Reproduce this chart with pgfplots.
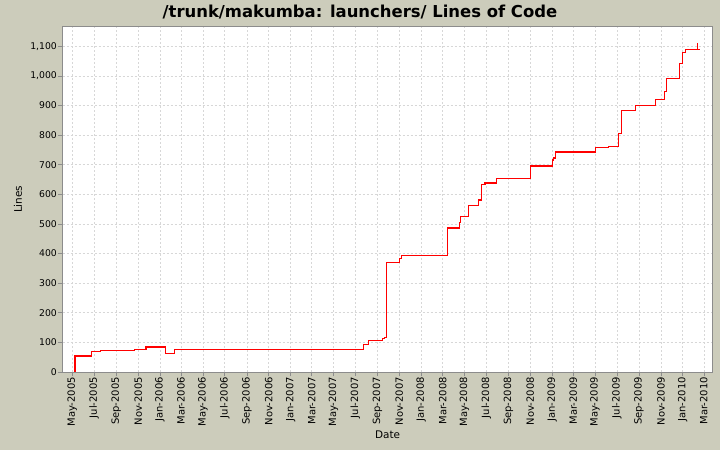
\documentclass[border=0pt]{standalone}
\usepackage{pgfplots}
\pgfplotsset{compat=1.18}
\usepackage{fontspec}
\setmainfont{DejaVu Sans}

\definecolor{chartbg}{RGB}{204,204,187}
\definecolor{gridgray}{RGB}{215,215,215}
\definecolor{framegray}{RGB}{140,140,140}

\begin{document}
\begin{tikzpicture}
  \fill[chartbg] (0,0) rectangle (720bp,450bp);
  \useasboundingbox (0,0) rectangle (720bp,450bp);
  \begin{axis}[
    at={(62.5bp,78bp)}, anchor=south west,
    scale only axis,
    width=650.2bp, height=345.3bp,
    axis background/.style={fill=white},
    xmin=-27.4, xmax=1789.8,
    ymin=0, ymax=1166.5,
    xtick={0,61,123,184,245,304,365,426,488,549,610,669,730,791,853,914,975,1035,1096,1157,1219,1280,1341,1400,1461,1522,1584,1645,1706,1765},
    xticklabels={May-2005,Jul-2005,Sep-2005,Nov-2005,Jan-2006,Mar-2006,May-2006,Jul-2006,Sep-2006,Nov-2006,Jan-2007,Mar-2007,May-2007,Jul-2007,Sep-2007,Nov-2007,Jan-2008,Mar-2008,May-2008,Jul-2008,Sep-2008,Nov-2008,Jan-2009,Mar-2009,May-2009,Jul-2009,Sep-2009,Nov-2009,Jan-2010,Mar-2010},
    ytick={0,100,...,1100},
    x tick label style={rotate=90, anchor=east, font=\fontsize{10}{12}\selectfont, inner sep=1bp},
    y tick label style={font=\fontsize{9.3}{11}\selectfont, inner sep=1.5bp},
    /pgf/number format/assume math mode=true,
    /pgf/number format/.cd, 1000 sep={,}, /pgfplots/.cd,
    scaled y ticks=false,
    tick pos=left,
    tick align=outside,
    major tick length=4bp,
    tick style={framegray, line width=0.6bp},
    axis line style={framegray, line width=0.8bp},
    grid=major,
    grid style={gridgray, dash pattern=on 2bp off 2bp, line width=0.6bp},
    every axis title shift=0pt,
    title={\bfseries /trunk/makumba: launchers/ Lines of Code},
    title style={at={(rel axis cs:0.4575,1.0426)}, anchor=center, font=\fontsize{16.5}{19}\selectfont},
    xlabel={Date},
    xlabel style={at={(rel axis cs:0.5,-0.1825)}, anchor=center, font=\fontsize{10.5}{12}\selectfont},
    ylabel={Lines},
    ylabel style={at={(rel axis cs:-0.0684,0.5)}, anchor=center, font=\fontsize{10.5}{12}\selectfont},
    ]
    \addplot[const plot, red, line width=1.3bp] coordinates {
      (7.5,0) (7.5,54) (54,69) (79,72) (174,77) (206,84) (260,63) (286,77)
      (813,93) (828,107) (867.5,113) (872,117) (877.6,371) (914,384) (919.5,394)
      (1048,486) (1081.6,504) (1085.5,526) (1106.8,563) (1135.8,581) (1143,634)
      (1153,638) (1185,654) (1280,696) (1341.5,716) (1345.5,723) (1350.5,743)
      (1461.7,759) (1498,762) (1526,805) (1535.5,884) (1574.6,901) (1630.5,921)
      (1654.5,948) (1660,992) (1696.5,1043) (1706,1080) (1714.3,1090)
      (1746.8,1110) (1747.6,1090) (1754.3,1090)
    };
  \end{axis}
\end{tikzpicture}
\end{document}
